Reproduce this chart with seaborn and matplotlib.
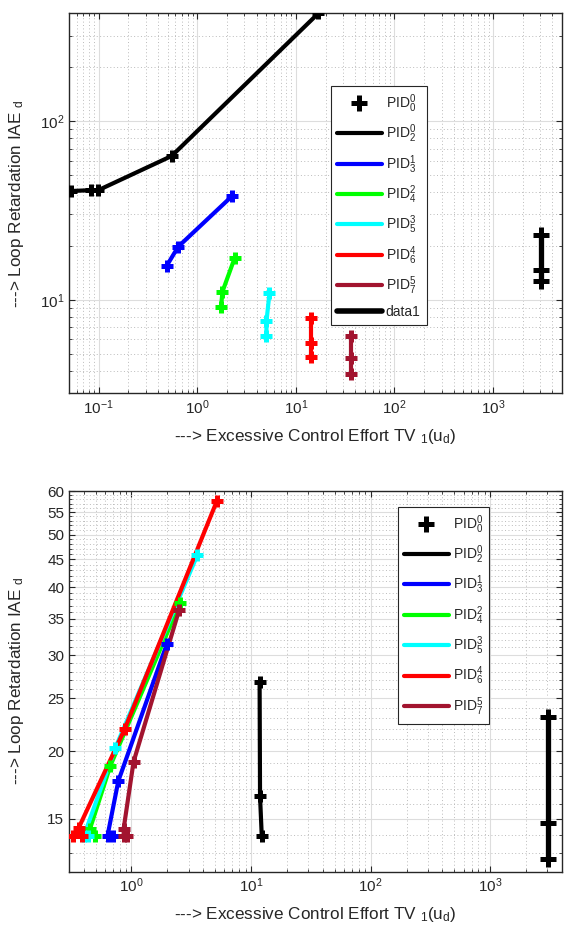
import matplotlib
matplotlib.use("Agg")
import matplotlib.pyplot as plt
import seaborn as sns
from matplotlib.lines import Line2D
from matplotlib.ticker import LogLocator, FixedLocator, FixedFormatter, NullFormatter

# ---------------- data: upper panel ----------------
top_pid00_tv = [3070, 3070, 3070]
top_pid00_iae = [12.8, 14.7, 23.1]
top_pid02_tv = [0.053, 0.084, 0.099, 0.55, 16.9]
top_pid02_iae = [40.6, 41.0, 41.0, 63.7, 400]
top_pid13_tv = [0.49, 0.64, 2.25]
top_pid13_iae = [15.5, 19.8, 38.0]
top_pid24_tv = [1.74, 1.80, 2.40]
top_pid24_iae = [9.06, 11.1, 17.2]
top_pid35_tv = [5.03, 5.03, 5.40]
top_pid35_iae = [6.24, 7.57, 10.9]
top_pid46_tv = [14.1, 14.1, 14.1]
top_pid46_iae = [4.79, 5.77, 7.90]
top_pid57_tv = [36.3, 36.3, 36.3]
top_pid57_iae = [3.86, 4.70, 6.24]

# ---------------- data: lower panel ----------------
bot_pid00_tv = [3065, 3065, 3065]
bot_pid00_iae = [12.65, 14.74, 23.07]
bot_pid02_tv = [12.3, 11.9, 11.8]
bot_pid02_iae = [13.97, 16.5, 26.8]
bot_pid13_tv = [0.70, 0.63, 0.775, 1.98]
bot_pid13_iae = [13.97, 13.97, 17.6, 31.5]
bot_pid24_tv = [0.494, 0.45, 0.666, 2.56]
bot_pid24_iae = [13.97, 14.4, 18.8, 37.5]
bot_pid35_tv = [0.431, 0.40, 0.733, 3.55]
bot_pid35_iae = [13.97, 13.97, 20.27, 45.8]
bot_pid46_tv = [0.388, 0.326, 0.362, 0.877, 5.19]
bot_pid46_iae = [13.97, 13.97, 14.45, 21.95, 57.7]
bot_pid57_tv = [0.915, 0.86, 0.86, 1.04, 2.51]
bot_pid57_iae = [13.97, 13.97, 14.4, 19.1, 36.4]

series_labels = [r"PID$_2^0$", r"PID$_3^1$", r"PID$_4^2$", r"PID$_5^3$", r"PID$_6^4$", r"PID$_7^5$"]
series_colors = ["#000000", "#0000ff", "#00ff00", "#00ffff", "#ff0000", "#a2142f"]
bot_ytick_values = [15, 20, 25, 30, 35, 40, 45, 50, 55, 60]

top_series = [(top_pid02_tv, top_pid02_iae), (top_pid13_tv, top_pid13_iae),
              (top_pid24_tv, top_pid24_iae), (top_pid35_tv, top_pid35_iae),
              (top_pid46_tv, top_pid46_iae), (top_pid57_tv, top_pid57_iae)]
bot_series = [(bot_pid02_tv, bot_pid02_iae), (bot_pid13_tv, bot_pid13_iae),
              (bot_pid24_tv, bot_pid24_iae), (bot_pid35_tv, bot_pid35_iae),
              (bot_pid46_tv, bot_pid46_iae), (bot_pid57_tv, bot_pid57_iae)]

sns.set_style("ticks")
plt.rcParams["font.family"] = ["Liberation Sans", "DejaVu Sans"]
plt.rcParams["mathtext.fontset"] = "custom"
plt.rcParams["mathtext.rm"] = "Liberation Sans"
plt.rcParams["mathtext.it"] = "Liberation Sans"
plt.rcParams["mathtext.default"] = "regular"

AX_COL = "#262626"
LW = 3.0
TICK_FS = 11
LABEL_FS = 12.3
LEGEND_FS = 10

FIG_W, FIG_H = 564, 927
AX_L, AX_R = 69, 562


def draw_panel(ax, series, pid00, extra_line_label=None):
    # PID_0^0 column: vertical connector plus bold crosses
    sns.lineplot(x=pid00[0], y=pid00[1], sort=False, estimator=None, color="black",
                 lw=LW + 0.8, ax=ax, legend=False)
    for (tv, iae), col in zip(series, series_colors):
        sns.lineplot(x=tv, y=iae, sort=False, estimator=None, color=col, lw=LW,
                     ax=ax, legend=False)
        sns.scatterplot(x=tv, y=iae, marker="+", s=70, linewidth=3.6, color=col,
                        ax=ax, legend=False, zorder=3)
    sns.scatterplot(x=pid00[0], y=pid00[1], marker="+", s=125, linewidth=3.6,
                    color="black", ax=ax, legend=False, zorder=3)

    ax.set_xscale("log")
    ax.set_yscale("log")

    handles = [Line2D([], [], ls="none", marker="+", ms=11, mew=3.6, color="black")]
    labels = [r"PID$_0^0$"]
    for lab, col in zip(series_labels, series_colors):
        handles.append(Line2D([], [], color=col, lw=LW))
        labels.append(lab)
    if extra_line_label:
        handles.append(Line2D([], [], color="black", lw=LW + 1))
        labels.append(extra_line_label)
    return handles, labels


def style_axes(ax):
    for sp in ax.spines.values():
        sp.set_color(AX_COL)
        sp.set_linewidth(1.0)
    ax.tick_params(which="both", direction="in", top=True, right=True,
                   colors=AX_COL, labelcolor=AX_COL, labelsize=TICK_FS)
    ax.tick_params(which="major", length=4.5, width=0.8)
    ax.tick_params(which="minor", length=2.5, width=0.6)
    ax.grid(which="major", color="#dddddd", lw=0.8, ls="-")
    ax.grid(which="minor", color="#bbbbbb", lw=0.7, ls=(0, (1, 2.5)))
    ax.set_axisbelow(True)


def axis_labels(ax, ylab_x, xlab_y):
    ax.set_xlabel(r"---> Excessive Control Effort TV $_1$(u$_d$)", fontsize=LABEL_FS, color=AX_COL)
    ax.set_ylabel(r"---> Loop Retardation IAE $_d$", fontsize=LABEL_FS, color=AX_COL)
    ax.xaxis.label.set_va("center")
    ax.yaxis.label.set_va("center")
    ax.xaxis.set_label_coords(0.5, xlab_y)
    ax.yaxis.set_label_coords(ylab_x, 0.5)


def legend(ax, handles, labels, anchor):
    lg = ax.legend(handles, labels, loc="upper left", bbox_to_anchor=anchor,
                   borderaxespad=0, fancybox=False, framealpha=1,
                   edgecolor=AX_COL, fontsize=LEGEND_FS, handlelength=3.2,
                   handletextpad=0.3, labelspacing=0.56, borderpad=0.45)
    lg.get_frame().set_linewidth(0.8)
    for t in lg.get_texts():
        t.set_color(AX_COL)
    return lg


fig = plt.figure(figsize=(FIG_W / 100, FIG_H / 100), dpi=100)
ax_w = AX_R - AX_L

# ---------------- upper panel ----------------
t_top, t_bot = 13.3, 393.3
ax1 = fig.add_axes([AX_L / FIG_W, 1 - t_bot / FIG_H, ax_w / FIG_W, (t_bot - t_top) / FIG_H])
h, l = draw_panel(ax1, top_series, (top_pid00_tv, top_pid00_iae), extra_line_label="data1")
ax1.set_xlim(0.05, 5000)
ax1.set_ylim(3, 400)
ax1.xaxis.set_major_locator(LogLocator(base=10, numticks=20))
ax1.xaxis.set_minor_locator(LogLocator(base=10, subs=range(2, 10), numticks=20))
ax1.yaxis.set_minor_locator(LogLocator(base=10, subs=range(2, 10), numticks=20))
ax1.xaxis.set_minor_formatter(NullFormatter())
ax1.yaxis.set_minor_formatter(NullFormatter())
style_axes(ax1)
axis_labels(ax1, (17 - AX_L) / ax_w, -43 / (t_bot - t_top))
legend(ax1, h, l, ((331 - AX_L) / ax_w, (t_bot - 86) / (t_bot - t_top)))

# ---------------- lower panel ----------------
b_top, b_bot = 490.7, 871.7
ax2 = fig.add_axes([AX_L / FIG_W, 1 - b_bot / FIG_H, ax_w / FIG_W, (b_bot - b_top) / FIG_H])
h, l = draw_panel(ax2, bot_series, (bot_pid00_tv, bot_pid00_iae))
ax2.set_xlim(0.3, 4000)
ax2.set_ylim(12, 60.2)
ax2.xaxis.set_major_locator(LogLocator(base=10, numticks=20))
ax2.xaxis.set_minor_locator(LogLocator(base=10, subs=range(2, 10), numticks=20))
ax2.xaxis.set_minor_formatter(NullFormatter())
ax2.yaxis.set_major_locator(FixedLocator(bot_ytick_values))
ax2.yaxis.set_major_formatter(FixedFormatter([str(v) for v in bot_ytick_values]))
ax2.yaxis.set_minor_locator(FixedLocator(list(range(12, 61))))
ax2.yaxis.set_minor_formatter(NullFormatter())
style_axes(ax2)
axis_labels(ax2, (17 - AX_L) / ax_w, -43 / (b_bot - b_top))
legend(ax2, h, l, ((398 - AX_L) / ax_w, (b_bot - 506.7) / (b_bot - b_top)))

fig.savefig("out.png", dpi=100)
